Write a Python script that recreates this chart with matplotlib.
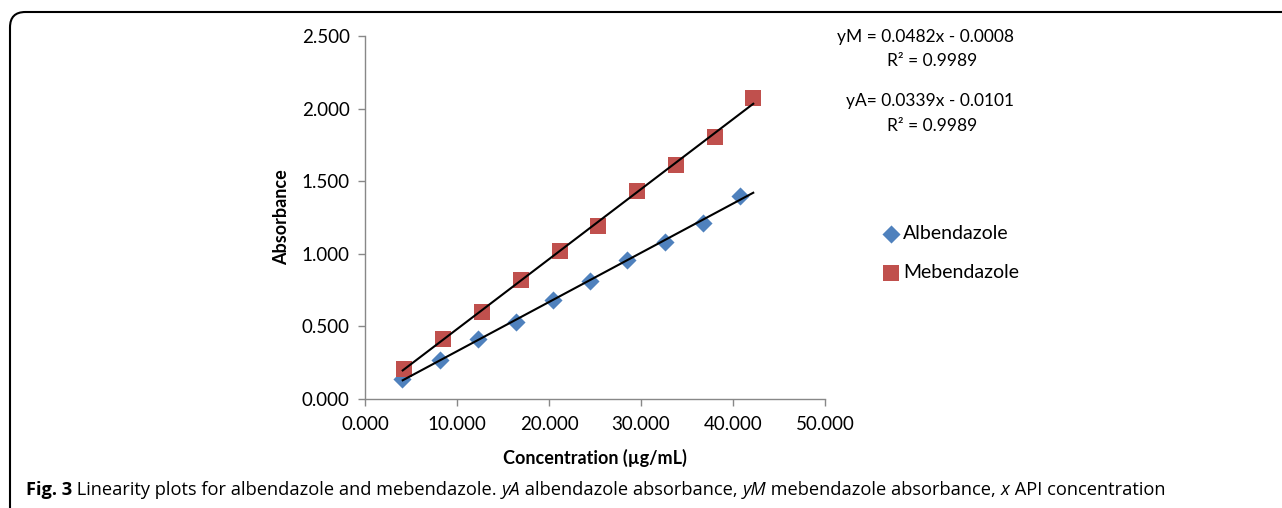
import matplotlib
matplotlib.use("Agg")
import matplotlib.pyplot as plt
from matplotlib.patches import FancyBboxPatch
import numpy as np

# ---- data ----
alb_x = [4.01, 8.13, 12.26, 16.38, 20.39, 24.51, 28.52, 32.65, 36.77, 40.78]
alb_y = [0.138, 0.269, 0.413, 0.530, 0.682, 0.813, 0.957, 1.081, 1.212, 1.398]
meb_x = [4.26, 8.49, 12.69, 16.92, 21.15, 25.35, 29.58, 33.77, 38.00, 42.19]
meb_y = [0.207, 0.415, 0.599, 0.822, 1.021, 1.189, 1.434, 1.612, 1.802, 2.071]
fit_alb = [0.0339, -0.0101]
fit_meb = [0.0482, -0.0008]
fit_range = [4.1, 42.2]
x_ticks = [0, 10, 20, 30, 40, 50]
y_ticks = [0.0, 0.5, 1.0, 1.5, 2.0, 2.5]

plt.rcParams['font.family'] = ['Lato', 'DejaVu Sans']

fig = plt.figure(figsize=(12.82, 5.08), dpi=100)
ax = fig.add_axes([365/1282, 1-399/508, 460/1282, 363/508])

blue = '#4F81BD'
red = '#C0504D'

ax.scatter(alb_x, alb_y, marker='D', s=85, color=blue, zorder=3, linewidths=0, label='Albendazole')
ax.scatter(meb_x, meb_y, marker='s', s=120, color=red, zorder=3, linewidths=0, label='Mebendazole')

xr = np.array(fit_range)
ax.plot(xr, fit_alb[0]*xr + fit_alb[1], color='black', lw=1.5, zorder=4)
ax.plot(xr, fit_meb[0]*xr + fit_meb[1], color='black', lw=1.5, zorder=4)

ax.set_xlim(0, 50)
ax.set_ylim(0, 2.5)
ax.set_xticks(x_ticks)
ax.set_yticks(y_ticks)
ax.set_xticklabels([f"{v:.3f}" for v in x_ticks])
ax.set_yticklabels([f"{v:.3f}" for v in y_ticks])
for s in ['top', 'right']:
    ax.spines[s].set_visible(False)
for s in ['left', 'bottom']:
    ax.spines[s].set_color('#888888')
    ax.spines[s].set_linewidth(1.0)
ax.tick_params(axis='both', colors='#888888', labelcolor='black', labelsize=13.5, length=5, width=1, direction='out')
ax.tick_params(axis='x', pad=7)
ax.tick_params(axis='y', pad=6)

ax.set_xlabel('Concentration (µg/mL)', fontsize=13, fontweight='bold', labelpad=12)
ax.set_ylabel('Absorbance', fontsize=13, fontweight='bold', labelpad=8)

# equations
eq_fs = 12.5
fig.text(926/1282, 1-37/508, 'yM = 0.0482x - 0.0008', ha='center', va='center', fontsize=eq_fs)
fig.text(932/1282, 1-61/508, 'R² = 0.9989', ha='center', va='center', fontsize=eq_fs)
fig.text(930/1282, 1-101/508, 'yA= 0.0339x - 0.0101', ha='center', va='center', fontsize=eq_fs)
fig.text(932/1282, 1-126/508, 'R² = 0.9989', ha='center', va='center', fontsize=eq_fs)

# legend
leg = fig.legend(loc='center left', bbox_to_anchor=(878/1282, 1-253/508), frameon=False,
                 fontsize=14, handletextpad=0.0, labelspacing=1.15, handlelength=1.3,
                 borderaxespad=0, borderpad=0)

# caption
cap_y = 1-490/508
cap_fs = 13.15
cap_parts = [
    ('Fig. 3', 'normal', 'bold'),
    (' Linearity plots for albendazole and mebendazole. ', 'normal', 'normal'),
    ('yA', 'italic', 'normal'), (' albendazole absorbance, ', 'normal', 'normal'), ('yM', 'italic', 'normal'),
    (' mebendazole absorbance, ', 'normal', 'normal'), ('x', 'italic', 'normal'), (' API concentration', 'normal', 'normal')]
fig.canvas.draw()
r = fig.canvas.get_renderer()
xpos = 26
for txt, st, wt in cap_parts:
    t = fig.text(xpos/1282, cap_y, txt, style=st, fontweight=wt, fontsize=cap_fs, va='center', ha='left',
                 family=['Open Sans', 'DejaVu Sans'])
    xpos = t.get_window_extent(renderer=r).x1

# border
border = FancyBboxPatch((10/1282, -0.05), 1.1, 1-12/508+0.05, boxstyle='round,pad=0,rounding_size=0.012',
                        transform=fig.transFigure, fill=False, edgecolor='black', lw=1.5, mutation_aspect=1282/508)
fig.patches.append(border)

fig.savefig('out.png', dpi=100)
